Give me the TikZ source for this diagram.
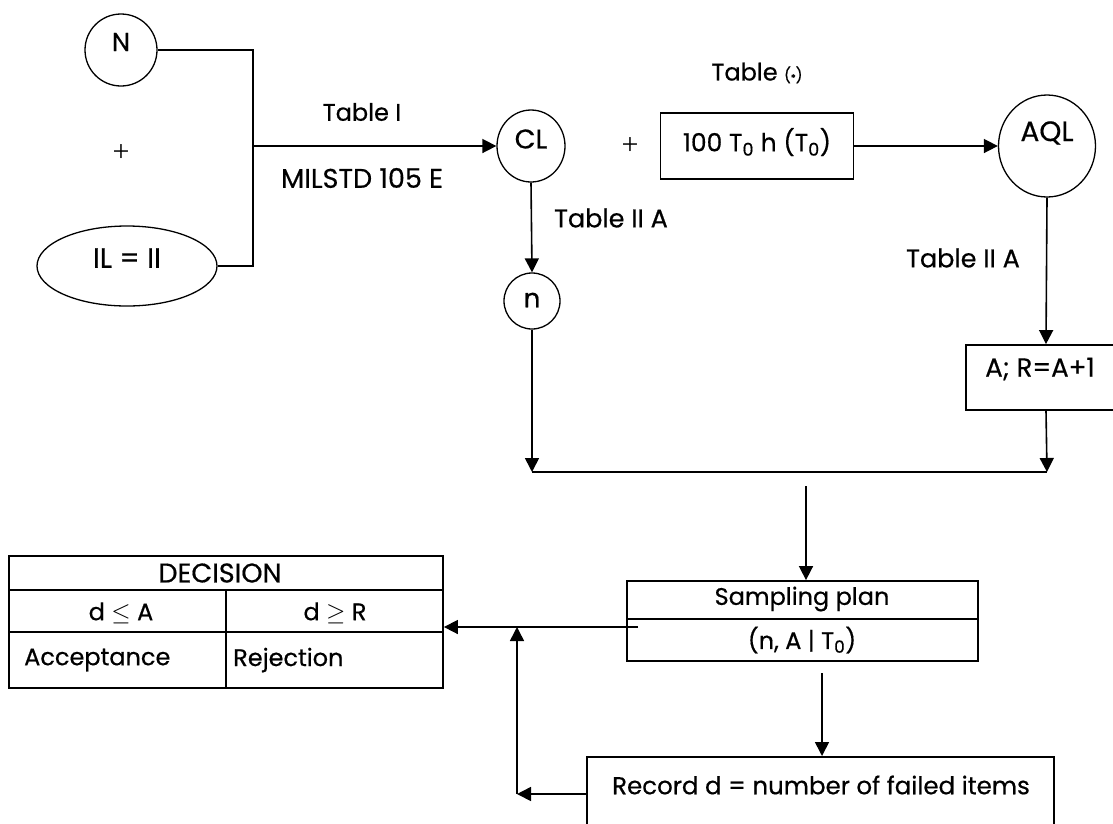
\documentclass[tikz,border=0pt]{standalone}
\usepackage{fontspec}
\setmainfont{Poppins}[FakeBold=0.5]
\newfontfamily\plusfont{Liberation Serif}
\usetikzlibrary{arrows.meta,shapes.geometric,calc}
\begin{document}
\begin{tikzpicture}[x=1pt,y=-1pt,
  font=\fontsize{24}{28}\selectfont,
  fs/.style={font=\fontsize{#1}{#1}\selectfont},
  ell/.style={draw,ellipse,line width=1.3pt,inner sep=0pt},
  box/.style={draw,rectangle,line width=1.8pt,inner sep=0pt},
  txt/.style={inner sep=0pt,anchor=center},
  plus/.style={inner sep=0pt,font=\plusfont\fontsize{30}{30}\selectfont},
  conn/.style={line width=1.6pt},
  arr/.style={conn,-{Triangle[length=14pt,width=14pt]}},
]
\useasboundingbox (0,0) rectangle (1113,823);

% left inputs
\node[ell,minimum width=72pt,minimum height=72pt] (N) at (121,50) {};
\node[txt,fs=26] (Ntext) at (121,42) {N};
\node[plus] (plusA) at (121,153) {+};
\node[ell,minimum width=180pt,minimum height=80pt] (IL) at (127,266) {};
\node[txt,fs=28] (ILtext) at (127,258) {IL = II};
\coordinate (jtop) at (253,50);
\coordinate (jbot) at (253,266);
\coordinate (jmid) at (253,146);
\draw[conn] (N.east) -- (jtop) -- (jbot) -- (IL.east);

% CL
\node[ell,minimum width=68pt,minimum height=72pt] (CL) at (531,146) {};
\node[txt,fs=27] (CLtext) at (531,139) {CL};
\draw[arr] (jmid) -- (CL.west);
\node[txt] (tabI) at (362,112) {Table I};
\node[txt,fs=27] (milstd) at (362,178) {MILSTD 105 E};

% plus and time box
\node[plus] (plusB) at (630,146) {+};
\node[box,minimum width=193pt,minimum height=66pt] (T0box) at (757,146) {};
\node[txt,fs=25] (T0text) at (757,142) {100 T\textsubscript{0} h (T\textsubscript{0})};
\node[txt] (tabstar) at (757,73) {Table {\fontsize{15}{15}\selectfont(\raisebox{-1pt}{\fontsize{10}{10}\selectfont*})}};

% AQL
\node[ell,minimum width=97pt,minimum height=102pt] (AQL) at (1047,146) {};
\node[txt,fs=28] (AQLtext) at (1047,133) {AQL};
\draw[arr] (T0box.east) -- (AQL.west);

% n
\node[ell,minimum width=56pt,minimum height=56pt] (n) at (532,301) {};
\node[txt,fs=26] (ntext) at (532,300) {n};
\draw[arr] (CL.south) -- (n.north);
\node[txt,fs=25.5] (tabIIA1) at (611,218) {Table II A};

% A ; R
\node[box,minimum width=160pt,minimum height=65pt] (AR) at (1046,377.5) {};
\node[txt,fs=26] (ARtext) at (1040,369) {A; R=A+1};
\draw[arr] (AQL.south) -- (AR.north);
\node[txt,fs=25.5] (tabIIA2) at (963,258) {Table II A};

% merge
\coordinate (mL) at (532,472);
\coordinate (mR) at (1047,472);
\draw[arr] (n.south) -- (mL);
\draw[arr] (AR.south) -- (mR);
\draw[conn] (mL) -- (mR);

% sampling plan
\node[box,minimum width=351pt,minimum height=80pt] (SP) at (802.5,621) {};
\draw[line width=1.8pt] ($(SP.north west)+(0,39)$) -- ($(SP.north east)+(0,39)$);
\node[txt] (SPtext1) at (802,599) {Sampling plan};
\node[txt] (SPtext2) at (802,640) {(n, A | T\textsubscript{0})};
\coordinate (spin) at (806,486);
\draw[arr] (spin) -- (spin |- SP.north);

% record box
\node[box,minimum width=467pt,minimum height=100pt,anchor=north] (rec) at (820.5,756) {};
\node[txt,fs=24.5] (rectext) at (821,785) {Record d = number of failed items};
\coordinate (recin) at (822,673);
\draw[arr] (recin) -- (recin |- rec.north);

% decision table
\node[box,minimum width=434pt,minimum height=132pt] (dec) at (226,622) {};
\draw[line width=1.8pt] ($(dec.north west)+(0,35)$) -- ($(dec.north east)+(0,35)$);
\draw[line width=1.8pt] ($(dec.north west)+(0,77)$) -- ($(dec.north east)+(0,77)$);
\draw[line width=1.8pt] ($(dec.north west)+(218,35)$) -- ($(dec.south west)+(218,0)$);
\node[txt,fs=27] (dectitle) at (220,573) {DECISION};
\node[txt] (decA) at (121,613) {d $\leq$ A};
\node[txt] (decR) at (335,613) {d $\geq$ R};
\node[txt,anchor=west] (decacc) at (24,660) {Acceptance};
\node[txt,anchor=west] (decrej) at (233,660) {Rejection};

% feedback
\coordinate (spout) at (638,627);
\coordinate (loop) at (517,794);
\draw[arr] (spout) -- (spout -| dec.east);
\draw[arr] (rec.west |- loop) -- (loop);
\draw[arr] (loop) -- (loop |- spout);
\end{tikzpicture}
\end{document}
